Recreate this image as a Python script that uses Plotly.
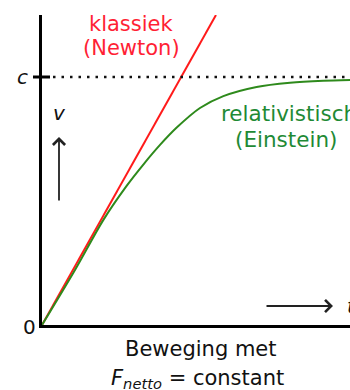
import plotly.graph_objects as go

# ---- data ----
newton_t = [0.0, 1.25]
newton_v = [0.0, 1.25]

einstein_t = [0.0, 0.237, 0.440, 0.608, 0.728, 0.848, 0.968, 1.135, 1.303, 1.542, 1.782, 2.021, 2.213]
einstein_v = [0.0, 0.222, 0.423, 0.561, 0.647, 0.726, 0.796, 0.875, 0.923, 0.960, 0.977, 0.985, 0.988]

c_value = 1.0
y_tick_labels = ["0", "<i>c</i>"]

X_MAX = 2.213
Y_MAX = 1.25

# plot-area geometry (pixels)
L, T, W, H = 42, 15, 308, 310


def dx(px):
    return (px - L) / W * X_MAX


def qx(px):
    return (px - L) / W


def qy(py):
    return (T + H - py) / H


FONT = "DejaVu Sans"
RED = "#ff1a1a"
RED_TXT = "#ff1f35"
GREEN = "#2e8a1c"
GREEN_TXT = "#1f8a35"
INK = "#111111"

fig = go.Figure()

fig.add_trace(go.Scatter(x=newton_t, y=newton_v, mode="lines",
                         line=dict(color=RED, width=2), hoverinfo="skip"))
fig.add_trace(go.Scatter(x=einstein_t, y=einstein_v, mode="lines",
                         line=dict(color=GREEN, width=2, shape="spline", smoothing=0.8),
                         hoverinfo="skip"))

# dotted speed-of-light line
fig.add_shape(type="line", xref="x", yref="y", x0=dx(53), x1=X_MAX, y0=c_value, y1=c_value,
              line=dict(color=INK, width=2.5, dash="2.5px,6px"))
# c tick crossing the axis
fig.add_shape(type="line", xref="paper", yref="y", x0=qx(33), x1=qx(50), y0=c_value, y1=c_value,
              line=dict(color="black", width=3))

ann = []


def text(x, y, s, color=INK, size=21, xanchor="center", yanchor="middle"):
    ann.append(dict(x=qx(x), y=qy(y), xref="paper", yref="paper", text=s, showarrow=False,
                    xanchor=xanchor, yanchor=yanchor,
                    font=dict(family=FONT, size=size, color=color)))


text(131, 24, "klassiek", RED_TXT)
text(131, 48, "(Newton)", RED_TXT)
text(219, 113, "relativistisch", GREEN_TXT, size=21.5, xanchor="left")
text(286, 139, "(Einstein)", GREEN_TXT, size=21.5)
text(59, 113, "<i>v</i>", INK, size=20)
text(22, 77, y_tick_labels[1], INK, size=20)
text(29, 327, y_tick_labels[0], INK, size=20)
text(345, 306, "<i>t</i>", INK, size=20, xanchor="left")
text(201, 349, "Beweging met", INK)
text(197, 379, "<i>F</i><sub><i>netto</i></sub> = constant", INK)

# arrows (tail offsets in pixels)
ann.append(dict(x=qx(59), y=qy(137), ax=0, ay=65, xref="paper", yref="paper",
                axref="pixel", ayref="pixel", text="", showarrow=True, arrowhead=4,
                arrowsize=1.3, arrowwidth=1.8, arrowcolor="#222222"))
ann.append(dict(x=qx(333), y=qy(306), ax=-68, ay=0, xref="paper", yref="paper",
                axref="pixel", ayref="pixel", text="", showarrow=True, arrowhead=4,
                arrowsize=1.3, arrowwidth=1.8, arrowcolor="#222222"))

fig.update_layout(
    width=350, height=390,
    margin=dict(l=L, r=350 - L - W, t=T, b=390 - T - H),
    paper_bgcolor="white", plot_bgcolor="white",
    showlegend=False,
    annotations=ann,
    xaxis=dict(range=[0, X_MAX], showline=True, linewidth=3, linecolor="black",
               showgrid=False, zeroline=False, showticklabels=False, ticks=""),
    yaxis=dict(range=[0, Y_MAX], showline=True, linewidth=3, linecolor="black",
               showgrid=False, zeroline=False, showticklabels=False, ticks=""),
)

fig.write_html("out.html", config={"displayModeBar": False},
               post_script="document.body.style.margin='0px';document.body.style.padding='0px';")
